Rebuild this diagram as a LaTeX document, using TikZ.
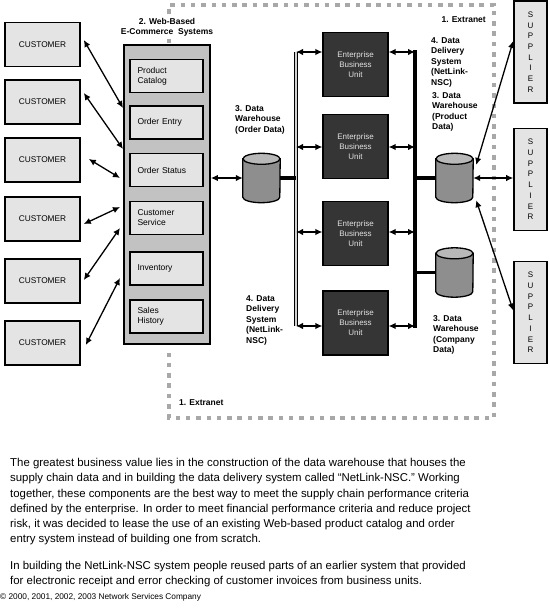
\documentclass[tikz,border=0pt]{standalone}
\usepackage{fontspec}
\setmainfont{Liberation Sans}
\usetikzlibrary{arrows.meta}

\definecolor{boxgray}{HTML}{E4E4E4}
\definecolor{webgray}{HTML}{C2C2C2}
\definecolor{ebugray}{HTML}{353535}
\definecolor{ebutext}{HTML}{E2E2E2}
\definecolor{dbbody}{HTML}{8E8E8E}
\definecolor{dbtop}{HTML}{B8B8B8}
\definecolor{dotgray}{HTML}{A8A8A8}

\begin{document}
\begin{tikzpicture}[x=1pt, y=-1pt,
	cust/.style={draw, line width=1.6pt, fill=boxgray, minimum width=75pt, minimum height=44pt, inner sep=0pt, font=\fontsize{8.3}{10}\selectfont},
	app/.style={draw, line width=1.4pt, fill=boxgray, minimum width=73pt, minimum height=33pt, text width=58pt, align=left, inner sep=2pt, font=\fontsize{8.5}{10}\selectfont},
	ebu/.style={draw, line width=1.2pt, fill=ebugray, text=ebutext, minimum width=65pt, minimum height=64pt, align=center, font=\fontsize{8}{10}\selectfont},
	sup/.style={draw, line width=1.6pt, fill=boxgray, minimum width=33pt, minimum height=102pt, align=center, font=\fontsize{8}{10.7}\selectfont},
	dbbox/.style={minimum width=37pt, minimum height=49pt, inner sep=0pt},
	dbline/.style={draw=black, line width=1.3pt},
	lbl/.style={anchor=north west, align=left, inner sep=0pt, font=\bfseries\fontsize{8.5}{10.6}\selectfont},
	para/.style={anchor=north west, align=left, inner sep=0pt, font=\fontsize{11.4}{15.3}\selectfont},
	dbl/.style={{Latex[length=7pt,width=6.5pt]}-{Latex[length=7pt,width=6.5pt]}, line width=1.3pt},
	bar/.style={line width=3.5pt},
	lbus/.style={draw=black, line width=0.8pt, double=gray!35, double distance=1.6pt},
	rbus/.style={line width=3.5pt},
	extranet/.style={draw=dotgray, line width=4.5pt, dash pattern=on 4.5pt off 5.8pt}]

		\useasboundingbox (0,0) rectangle (549,612);

		\draw[extranet] (169,14) -- (169,5) -- (494,5) -- (494,418) -- (169,418) -- (169,348);
		\draw[extranet] (169,39) -- (169,45);

		\node[cust] (c1) at (42.5,44.5) {CUSTOMER};
		\node[cust] (c2) at (42.5,102) {CUSTOMER};
		\node[cust] (c3) at (42.5,160) {CUSTOMER};
		\node[cust] (c4) at (42.5,219) {CUSTOMER};
		\node[cust] (c5) at (42.5,281) {CUSTOMER};
		\node[cust] (c6) at (42.5,343) {CUSTOMER};

		\node[draw, line width=1.8pt, fill=webgray, minimum width=86pt, minimum height=299pt] (web) at (167,194.5) {};
		\node[app] (pc) at (166.5,76) {Product\\Catalog};
		\node[app] (oe) at (166.5,122.5) {Order Entry};
		\node[app] (os) at (166.5,170) {Order Status};
		\node[app] (cs) at (166.5,218) {Customer\\Service};
		\node[app] (inv) at (166.5,268.5) {Inventory};
		\node[app] (sh) at (166.5,316.5) {Sales\\History};

		\node[lbl, anchor=center, align=center] (weblbl) at (167,27.5) {2. Web-Based\\E-Commerce\ \ Systems};

		\coordinate (w1) at (123,108);
		\coordinate (w2) at (123,149);
		\coordinate (w3) at (120,178);
		\coordinate (w4) at (120,207);
		\coordinate (w5) at (120,228);
		\coordinate (w6) at (120,278);

		\path [dbl] ([shift={(3pt,4.5pt)}]c1.east) edge (w1);
		\path [dbl] ([shift={(3pt,9pt)}]c2.east) edge (w2);
		\path [dbl] ([shift={(8pt,1pt)}]c3.east) edge (w3);
		\path [dbl] ([shift={(3pt,-5pt)}]c4.east) edge (w4);
		\path [dbl] ([shift={(3pt,1pt)}]c5.east) edge (w5);
		\path [dbl] ([shift={(5pt,-2pt)}]c6.east) edge (w6);

		\node[dbbox] (ow) at (261.5,178) {};
		\draw[dbline, fill=dbbody] ([yshift=-5.5pt]ow.north west) -- ([yshift=5.5pt]ow.south west) arc[start angle=180, end angle=360, x radius=18.5pt, y radius=5.5pt] -- ([yshift=-5.5pt]ow.north east) -- cycle;
		\draw[dbline, fill=dbtop] ([yshift=-5.5pt]ow.north) ellipse [x radius=18.5pt, y radius=5.5pt];
		\node[lbl] (owlbl) at (235,105) {3. Data\\Warehouse\\(Order Data)};
		\path [dbl] (web.east |- ow.west) edge (ow.west);

		\coordinate (l1) at (296,52);
		\coordinate (l2) at (296,147);
		\coordinate (l3) at (296,232);
		\coordinate (l4) at (296,326);
		\coordinate (r1) at (415,52);
		\coordinate (r2) at (415,147);
		\coordinate (r3) at (415,232);
		\coordinate (r4) at (415,326);

		\draw[lbus] (l1) -- (l4);
		\draw[rbus] ([yshift=1.5pt]r1) -- ([yshift=-1.5pt]r4);
		\draw[bar] (ow.east) -- (l1 |- ow.east);

		\node[ebu] (e1) at (355.5,64.5) {Enterprise\\Business\\Unit};
		\node[ebu] (e2) at (355.5,146.5) {Enterprise\\Business\\Unit};
		\node[ebu] (e3) at (355.5,233.5) {Enterprise\\Business\\Unit};
		\node[ebu] (e4) at (355.5,323) {Enterprise\\Business\\Unit};

		\path [dbl] (l1) edge (e1.west |- l1);
		\path [dbl] (l2) edge (e2.west |- l2);
		\path [dbl] (l3) edge (e3.west |- l3);
		\path [dbl] (l4) edge (e4.west |- l4);
		\path [dbl] (e1.east |- r1) edge (r1);
		\path [dbl] (e2.east |- r2) edge (r2);
		\path [dbl] (e3.east |- r3) edge (r3);
		\path [dbl] (e4.east |- r4) edge (r4);

		\node[lbl] (ddlbl) at (246,295) {4. Data\\Delivery\\System\\(NetLink-\\NSC)};

		\node[dbbox] (pw) at (454.5,178) {};
		\draw[dbline, fill=dbbody] ([yshift=-5.5pt]pw.north west) -- ([yshift=5.5pt]pw.south west) arc[start angle=180, end angle=360, x radius=18.5pt, y radius=5.5pt] -- ([yshift=-5.5pt]pw.north east) -- cycle;
		\draw[dbline, fill=dbtop] ([yshift=-5.5pt]pw.north) ellipse [x radius=18.5pt, y radius=5.5pt];
		\node[dbbox] (cw) at (454.5,272.5) {};
		\draw[dbline, fill=dbbody] ([yshift=-5.5pt]cw.north west) -- ([yshift=5.5pt]cw.south west) arc[start angle=180, end angle=360, x radius=18.5pt, y radius=5.5pt] -- ([yshift=-5.5pt]cw.north east) -- cycle;
		\draw[dbline, fill=dbtop] ([yshift=-5.5pt]cw.north) ellipse [x radius=18.5pt, y radius=5.5pt];
		\draw[bar] (r1 |- pw.west) -- (pw.west);
		\draw[bar] (r1 |- cw.west) -- (cw.west);

		\node[lbl, anchor=east] (xlbl) at (486,20) {1. Extranet};
		\node[lbl] (ndlbl) at (431,37) {4. Data\\Delivery\\System\\(NetLink-\\NSC)};
		\node[lbl] (pwlbl) at (432,92) {3. Data\\Warehouse\\(Product\\Data)};
		\node[lbl] (cwlbl) at (433,315) {3. Data\\Warehouse\\(Company\\Data)};
		\node[lbl, anchor=west] (xlbl2) at (179,403) {1. Extranet};

		\node[sup] (s1) at (530.5,52) {S\\U\\P\\P\\L\\I\\E\\R};
		\node[sup] (s2) at (530.5,179.5) {S\\U\\P\\P\\L\\I\\E\\R};
		\node[sup] (s3) at (530.5,312.5) {S\\U\\P\\P\\L\\I\\E\\R};

		\path [dbl] ([xshift=3pt]pw.35) edge ([yshift=11pt]s1.west);
		\path [dbl] (pw.east) edge (s2.west |- pw.east);
		\path [dbl] ([xshift=3pt]pw.-50) edge ([yshift=2pt]s3.west);

		\node[para] (p1) at (10,458) {The greatest business value lies in the construction of the data warehouse that houses the\\
			supply chain data and in building the data delivery system called ``NetLink-NSC.'' Working\\
			together, these components are the best way to meet the supply chain performance criteria\\
			defined by the enterprise. In order to meet financial performance criteria and reduce project\\
			risk, it was decided to lease the use of an existing Web-based product catalog and order\\
			entry system instead of building one from scratch.};
		\node[para] (p2) at (10,561) {In building the NetLink-NSC system people reused parts of an earlier system that provided\\
			for electronic receipt and error checking of customer invoices from business units.};
		\node[anchor=west, inner sep=0pt, font=\fontsize{8.3}{10}\selectfont] (copy) at (0,597) {© 2000, 2001, 2002, 2003 Network Services Company};
\end{tikzpicture}
\end{document}
